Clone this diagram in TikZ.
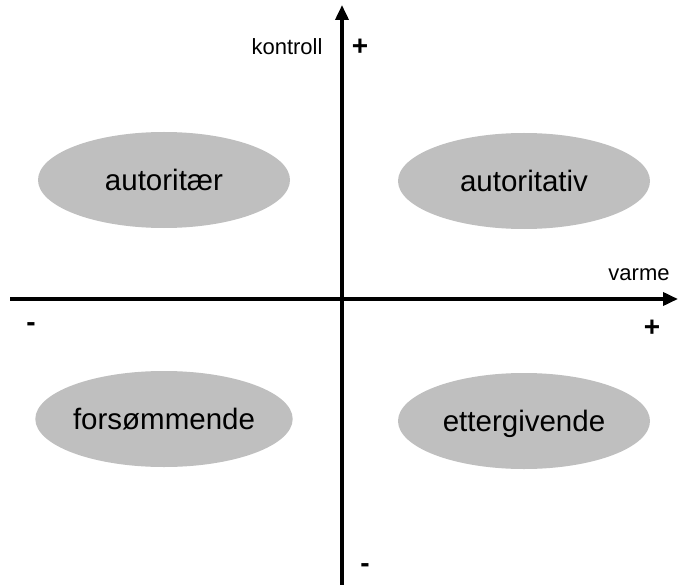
\documentclass[tikz,border=0pt]{standalone}
\usepackage{fontspec}
\setmainfont{Liberation Sans}
\usetikzlibrary{arrows.meta,shapes.geometric}
\begin{document}
\begin{tikzpicture}[x=1pt,y=-1pt,
  style/.style={ellipse,fill=black!25,draw=none,minimum width=252pt,minimum height=96pt,inner sep=0pt,
    text height=21pt,text depth=0pt,
    font=\fontsize{29.5}{32}\selectfont},
  axis/.style={line width=3.6pt,-{Triangle[length=15pt,width=13pt]}},
  axlabel/.style={font=\fontsize{22}{24}\selectfont,inner sep=0pt},
  sign/.style={font=\bfseries\fontsize{28}{30}\selectfont,inner sep=0pt}]
  \useasboundingbox (0,0) rectangle (679,585);
  % axes
  \coordinate (xl) at (10,299);
  \coordinate (xr) at (678,299);
  \coordinate (yb) at (342,586);
  \coordinate (yt) at (342,5);
  \draw[axis] (xl) -- (xr);
  \draw[axis] (yb) -- (yt);
  % axis labels
  \node[axlabel] (kontroll) at (287,47) {kontroll};
  \node[axlabel] (varme) at (639,275) {varme};
  \node[sign] (ypos) at (360,47) {+};
  \node[sign] (xpos) at (652,328) {+};
  \node[sign] (xneg) at (31,327) {-};
  \node[sign] (yneg) at (365,568) {-};
  % parenting styles
  \node[style] (autoritaer) at (164,180) {autoritær};
  \node[style] (autoritativ) at (524,181) {autoritativ};
  \node[style] (forsommende) at (164,419) {forsømmende};
  \node[style] (ettergivende) at (524,421) {ettergivende};
\end{tikzpicture}
\end{document}
